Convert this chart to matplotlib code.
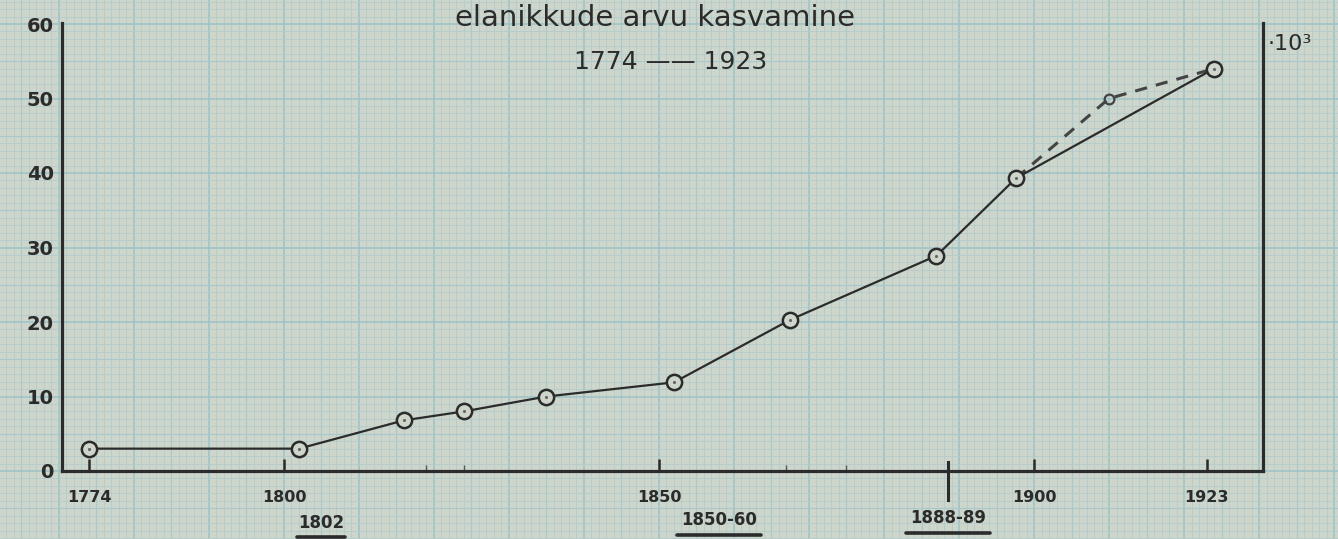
import matplotlib
matplotlib.use("Agg")
import matplotlib.pyplot as plt
import matplotlib.transforms as mtransforms

# ---- data ----
years = [1774, 1802, 1816, 1824, 1835, 1852, 1867.5, 1887, 1897.6, 1924]
values = [3, 3, 6.8, 8.0, 10, 11.9, 20.3, 28.9, 39.3, 54]
dash_years = [1897.6, 1910, 1924]
dash_values = [39.3, 50, 54]
xticks = [1774, 1800, 1850, 1900, 1923]
xtick_labels = ["1774", "1800", "1850", "1900", "1923"]
minor_xticks = [1819, 1824, 1867, 1875]
yticks = [0, 10, 20, 30, 40, 50, 60]
period_pos = [1804.9, 1858, 1888.5]
period_labels = ["1802", "1850-60", "1888-89"]
title1 = "elanikkude arvu kasvamine"
title2 = "1774 —— 1923"
unit_label = "·10³"

W, H = 1338, 539
ink = "#2b2b2b"
paper = "#ced5ca"
fine = "#b3cccc"
mid = "#a8c8cb"
heavy = "#9cc2c8"

fig = plt.figure(figsize=(W / 100, H / 100), dpi=100, facecolor=paper)

# pixel mapping of the graph paper: 7.5 px per year, 7.45 px per unit
def px_to_year(px):
    return 1800 + (px - 284) / 7.5

def py_to_val(py):
    return (471 - py) / 7.45

# background graph paper
bg = fig.add_axes([0, 0, 1, 1], zorder=0)
bg.set_facecolor(paper)
bg.set_xlim(px_to_year(0), px_to_year(W))
bg.set_ylim(py_to_val(H), py_to_val(0))
bg.axis("off")
for yr in range(1762, 1942):
    if yr % 10 == 0:
        bg.axvline(yr, color=heavy, lw=1.1, zorder=0)
    elif yr % 5 == 0:
        bg.axvline(yr, color=mid, lw=0.8, zorder=0)
    else:
        bg.axvline(yr, color=fine, lw=0.6, zorder=0)
for v in range(-10, 65):
    if v % 10 == 0:
        bg.axhline(v, color=heavy, lw=1.1, zorder=0)
    elif v % 5 == 0:
        bg.axhline(v, color=mid, lw=0.8, zorder=0)
    else:
        bg.axhline(v, color=fine, lw=0.6, zorder=0)

# main axes
left_px, right_px, bottom_px, top_px = 62, 1263, 471, 23
ax = fig.add_axes([left_px / W, (H - bottom_px) / H,
                   (right_px - left_px) / W, (bottom_px - top_px) / H], zorder=2)
ax.patch.set_alpha(0)
ax.set_xlim(px_to_year(left_px), px_to_year(right_px))
ax.set_ylim(0, py_to_val(top_px))

for s in ["left", "right", "bottom"]:
    ax.spines[s].set_color(ink)
    ax.spines[s].set_linewidth(2.3)
ax.spines["top"].set_visible(False)

ax.set_xticks(xticks)
ax.set_xticklabels(xtick_labels)
ax.set_xticks(minor_xticks, minor=True)
ax.tick_params(axis="x", which="major", direction="in", length=9, width=1.8,
               color=ink, labelsize=11.5, labelcolor=ink, pad=14)
ax.tick_params(axis="x", which="minor", direction="in", length=4, width=1.0, color="#555")
ax.set_yticks(yticks)
ax.tick_params(axis="y", length=0, labelsize=14, labelcolor=ink, pad=6)
for lab in ax.get_yticklabels():
    lab.set_fontweight("bold")
for lab in ax.get_xticklabels():
    lab.set_fontweight("bold")

# data lines
ax.plot(dash_years, dash_values, linestyle=(0, (4, 3)), color="#444", lw=2.2, zorder=3)
ax.plot(dash_years[1], dash_values[1], "o", ms=7, mfc="none", mec="#444", mew=1.6, zorder=4)
ax.plot(years, values, color=ink, lw=1.6, zorder=4)
ax.plot(years, values, "o", ms=11, mfc=paper, mec=ink, mew=1.8, zorder=5, clip_on=False)
ax.plot(years, values, ".", ms=2.5, color="#666", zorder=6, clip_on=False)

# crossing tick for 1888-89
trans = mtransforms.blended_transform_factory(ax.transData, ax.transAxes)
ax.plot([1888.5, 1888.5], [0.02, -0.065], color=ink, lw=2.2, transform=trans, clip_on=False)

# period labels with underline
for xp, lab, dy in zip(period_pos, period_labels, [-0.115, -0.11, -0.105]):
    ax.text(xp, dy, lab, transform=trans, ha="center", va="center",
            fontsize=12, fontweight="bold", color=ink)
    half = len(lab) * 0.8
    ax.plot([xp - half, xp + half], [dy - 0.033, dy - 0.033], color=ink, lw=2.6,
            transform=trans, clip_on=False, solid_capstyle="round")

# titles
fig.text(655 / W, 1 - 18 / H, title1, ha="center", va="center", fontsize=21, color=ink)
fig.text(671 / W, 1 - 62 / H, title2, ha="center", va="center", fontsize=18, color=ink)
fig.text(1268 / W, 1 - 44 / H, unit_label, ha="left", va="center", fontsize=16, color=ink)

fig.savefig("out.png", dpi=100, facecolor=paper)
